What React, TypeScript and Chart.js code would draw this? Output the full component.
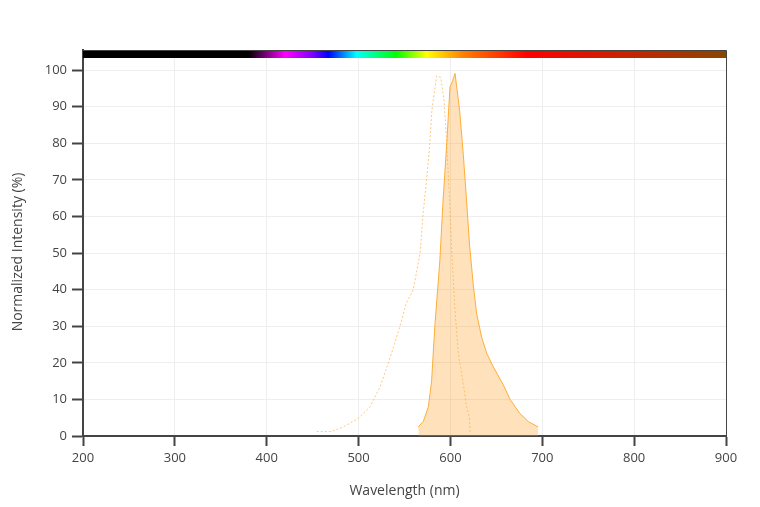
import React, { useEffect, useRef } from "react";
import { Chart, registerables } from "chart.js";

Chart.register(...registerables);

// Excitation spectrum (dotted)
const exWavelengths = [454.5, 470.5, 483.5, 499.5, 512.5, 523.5, 531, 537, 545, 552, 559.5, 561.5, 567, 570, 574, 577, 579.8, 585, 589.5, 593, 596, 599, 601.5, 605, 608.5, 614, 617.5, 620.5, 621.5];
const exValues = [1.2, 1.2, 2.5, 4.8, 8, 13.5, 19, 23.5, 30, 36.3, 40, 42.6, 50, 60, 70, 78, 89, 98.4, 98, 91.8, 80, 64.5, 50, 34.4, 22.6, 14.4, 8, 5.3, 0.7];

// Emission spectrum (filled)
const emWavelengths = [565, 570.5, 576, 579.5, 583, 588.5, 592, 596, 599.5, 602, 605, 610, 614, 617.5, 621, 625, 628.5, 634, 639.5, 646.5, 657.5, 665, 675.5, 685, 695.5];
const emValues = [2.5, 4, 8, 15, 30, 48, 64.5, 80, 95.4, 96.8, 99.1, 89, 77, 64.5, 51.7, 41, 33.5, 27, 22.6, 19, 14, 10, 6.2, 3.9, 2.5];

const xTicks = [200, 300, 400, 500, 600, 700, 800, 900];
const yTicks = [0, 10, 20, 30, 40, 50, 60, 70, 80, 90, 100];
const yTitle = "Normalized Intensity (%)";

// Visible spectrum colour bar stops (nm, colour)
const spectrumNm = [200, 380, 420, 450, 467, 498, 541, 574, 614, 683, 780, 900];
const spectrumColors = ["#000000", "#000000", "#ff00ff", "#8000ff", "#0000ff", "#00ffff", "#00ff00", "#ffff00", "#ff8000", "#ff0000", "#cc2000", "#8b4500"];

const spectrumBar = {
  id: "spectrumBar",
  afterDraw(chart: any) {
    const { ctx, chartArea } = chart;
    const xs = chart.scales.x;
    const { left, right, top, bottom } = chartArea;
    const g = ctx.createLinearGradient(left, 0, right, 0);
    spectrumNm.forEach((nm, i) => {
      const p = (xs.getPixelForValue(nm) - left) / (right - left);
      g.addColorStop(Math.min(1, Math.max(0, p)), spectrumColors[i]);
    });
    ctx.save();
    ctx.fillStyle = g;
    ctx.fillRect(left, top, right - left, 8);
    ctx.strokeStyle = "#444";
    ctx.lineWidth = 1;
    ctx.beginPath();
    ctx.moveTo(left - 1, top + 0.5);
    ctx.lineTo(right + 0.5, top + 0.5);
    ctx.lineTo(right + 0.5, bottom);
    ctx.stroke();
    // y axis title
    ctx.translate(18, (top + bottom) / 2 + 9);
    ctx.rotate(-Math.PI / 2);
    ctx.font = '14px "Open Sans", sans-serif';
    ctx.fillStyle = "#444";
    ctx.textAlign = "center";
    ctx.textBaseline = "middle";
    ctx.fillText(yTitle, 0, 0);
    ctx.restore();
  },
};

export default function App() {
  const ref = useRef<HTMLCanvasElement>(null);
  useEffect(() => {
    Chart.defaults.font.family = '"Open Sans", sans-serif';
    Chart.defaults.color = "#444";
    const chart = new Chart(ref.current!, {
      type: "line",
      data: {
        datasets: [
          {
            label: "Excitation",
            data: exWavelengths.map((x, i) => ({ x, y: exValues[i] })),
            borderColor: "rgba(255,170,60,0.65)",
            borderWidth: 1,
            borderDash: [2, 2],
            pointRadius: 0,
            fill: false,
            tension: 0,
          },
          {
            label: "Emission",
            data: emWavelengths.map((x, i) => ({ x, y: emValues[i] })),
            borderColor: "rgba(255,165,40,0.9)",
            backgroundColor: "rgba(255,160,30,0.3)",
            borderWidth: 1,
            pointRadius: 0,
            fill: "origin",
            tension: 0,
          },
        ],
      },
      options: {
        animation: false,
        responsive: false,
        devicePixelRatio: 1,
        layout: { padding: { top: 50, right: 34, left: 0, bottom: 0 } },
        plugins: { legend: { display: false }, tooltip: { enabled: false } },
        scales: {
          x: {
            type: "linear",
            min: 200,
            max: 900,
            afterBuildTicks: (s: any) => { s.ticks = xTicks.map((v) => ({ value: v })); },
            afterFit: (s: any) => { s.height = 71; },
            ticks: { font: { size: 13 }, color: "#444", padding: 4, maxRotation: 0 },
            grid: { color: "#eeeeee", tickColor: "#444", tickLength: 10, tickWidth: 2 },
            border: { color: "#444", width: 2 },
            title: { display: true, text: "Wavelength (nm)", font: { size: 14 }, color: "#444", padding: { top: 4, bottom: 7.5 } },
          },
          y: {
            type: "linear",
            min: 0,
            max: 105.5,
            afterBuildTicks: (s: any) => { s.ticks = yTicks.map((v) => ({ value: v })); },
            afterFit: (s: any) => { s.width = 83; },
            ticks: { font: { size: 13 }, color: "#444", padding: 5 },
            grid: { color: "#eeeeee", tickColor: "#444", tickLength: 11, tickWidth: 2 },
            border: { color: "#444", width: 2 },
            title: { display: false },
          },
        },
      },
      plugins: [spectrumBar],
    });
    return () => chart.destroy();
  }, []);
  return (
    <div style={{ position: "fixed", left: 0, top: 0, width: 760, height: 507, background: "#fff" }}>
      <canvas ref={ref} width={760} height={507} />
    </div>
  );
}
